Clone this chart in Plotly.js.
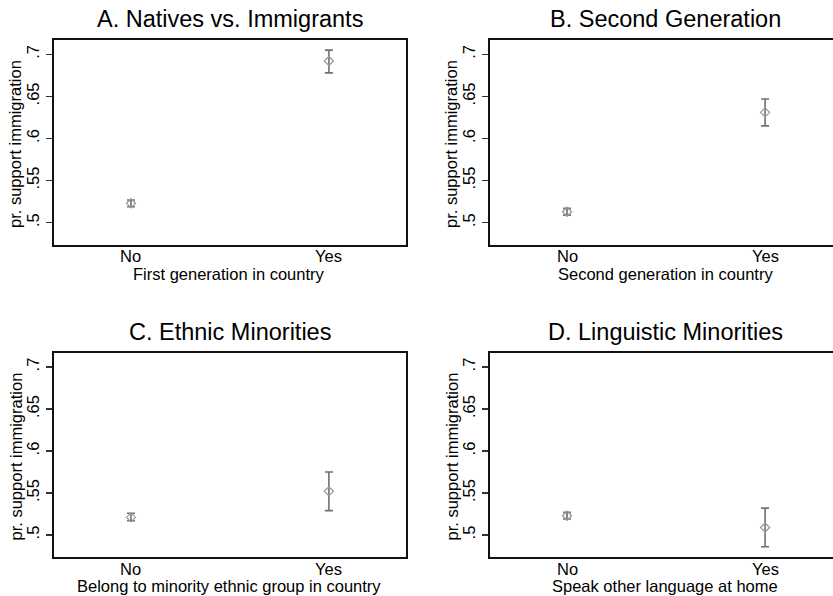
<!DOCTYPE html>
<html>
<head>
<meta charset="utf-8">
<script src="https://cdn.plot.ly/plotly-3.0.1.min.js"></script>
<style>html,body{margin:0;padding:0;background:#fff;}#chart{width:833px;height:596px;}</style>
</head>
<body>
<div id="chart"></div>
<script>
// ---- data ----
var categories = ["No", "Yes"];
var panelTitles = ["A. Natives vs. Immigrants", "B. Second Generation", "C. Ethnic Minorities", "D. Linguistic Minorities"];
var xTitles = ["First generation in country", "Second generation in country", "Belong to minority ethnic group in country", "Speak other language at home"];
var yTitle = "pr. support immigration";
var yTickVals = [0.5, 0.55, 0.6, 0.65, 0.7];
var yTickText = [".5", ".55", ".6", ".65", ".7"];

var estA = [0.523, 0.692];
var lowA = [0.519, 0.678];
var highA = [0.527, 0.705];

var estB = [0.513, 0.631];
var lowB = [0.509, 0.615];
var highB = [0.517, 0.647];

var estC = [0.521, 0.552];
var lowC = [0.517, 0.529];
var highC = [0.526, 0.575];

var estD = [0.523, 0.509];
var lowD = [0.519, 0.486];
var highD = [0.527, 0.532];

// ---- build ----
var xVals = [0, 1];
var panels = [
  {est: estA, low: lowA, high: highA},
  {est: estB, low: lowB, high: highB},
  {est: estC, low: lowC, high: highC},
  {est: estD, low: lowD, high: highD}
];
var W = 833, H = 596;
var FONT = "Liberation Sans, Arial, Helvetica, sans-serif";
// pixel boxes: [left, right, top, bottom]
var boxes = [
  [54, 405.7, 40, 245],
  [490, 833, 40, 245],
  [54, 405.7, 352.7, 557.3],
  [490, 833, 352.7, 557.3]
];
var titleCx = [229.9, 665, 229.9, 665.5];

var data = [];
var layout = {
  width: W, height: H,
  margin: {l: 0, r: 0, t: 0, b: 0},
  paper_bgcolor: "#ffffff",
  plot_bgcolor: "#ffffff",
  showlegend: false,
  font: {family: FONT, size: 16.5, color: "#000"},
  annotations: []
};

panels.forEach(function (p, i) {
  var n = i + 1;
  var xa = n === 1 ? "x" : "x" + n;
  var ya = n === 1 ? "y" : "y" + n;
  var em = p.est.map(function (v, k) { return v - p.low[k]; });
  var ep = p.est.map(function (v, k) { return p.high[k] - v; });
  data.push({
    type: "scatter", mode: "markers",
    x: xVals, y: p.est, xaxis: xa, yaxis: ya,
    marker: {symbol: "diamond-open", size: 7, color: "#9a9a9a", line: {width: 1.3, color: "#9a9a9a"}},
    error_y: {type: "data", symmetric: false, array: ep, arrayminus: em, color: "#707070", thickness: 1.6, width: 4},
    hoverinfo: "skip"
  });
  var b = boxes[i];
  var isRight = (i % 2 === 1);
  var xRight = isRight ? 1 + (833 - 765) / 198.3 : 1.388;
  layout["xaxis" + (n === 1 ? "" : n)] = {
    domain: [b[0] / W, b[1] / W],
    range: [-0.389, xRight],
    anchor: ya,
    tickvals: xVals, ticktext: ["", ""], showticklabels: false,
    showgrid: false, zeroline: false,
    showline: true, mirror: true, linecolor: "#111", linewidth: 2,
    ticks: "",
    fixedrange: true
  };
  layout["yaxis" + (n === 1 ? "" : n)] = {
    domain: [1 - b[3] / H, 1 - b[2] / H],
    range: [0.4735, 0.717],
    anchor: xa,
    tickvals: yTickVals, ticktext: yTickText, tickangle: -90,
    showgrid: false, zeroline: false,
    showline: true, mirror: !isRight, linecolor: "#111", linewidth: 2,
    ticks: "outside", ticklen: 6, tickwidth: 1.3, tickcolor: "#333",
    tickfont: {family: FONT, size: 16.5, color: "#000"},
    fixedrange: true
  };
  // x tick labels (category names) placed at the data x positions
  categories.forEach(function (c, k) {
    layout.annotations.push({
      text: c, xref: xa, yref: "paper",
      x: xVals[k], y: 1 - (b[3] + 11.5) / H, xanchor: "center", yanchor: "middle",
      showarrow: false, font: {family: FONT, size: 16.5, color: "#000"}
    });
  });
  // panel title
  layout.annotations.push({
    text: panelTitles[i], xref: "paper", yref: "paper",
    x: titleCx[i] / W, y: 1 - (b[2] - 21) / H, xanchor: "center", yanchor: "middle",
    showarrow: false, font: {family: FONT, size: 23.5, color: "#000"}
  });
  // x-axis title
  layout.annotations.push({
    text: xTitles[i], xref: "paper", yref: "paper",
    x: (isRight ? 665 : 229.5) / W, y: 1 - (b[3] + 29) / H, xanchor: "center", yanchor: "middle",
    showarrow: false, font: {family: FONT, size: 16.5, color: "#000"}
  });
  // y-axis title
  layout.annotations.push({
    text: yTitle, xref: "paper", yref: "paper", textangle: -90,
    x: (b[0] - 39) / W, y: 1 - ((b[2] + b[3]) / 2 + 1.5) / H, xanchor: "center", yanchor: "middle",
    showarrow: false, font: {family: FONT, size: 16.5, color: "#000"}
  });
});

Plotly.newPlot("chart", data, layout, {displayModeBar: false, staticPlot: true});
</script>
</body>
</html>
